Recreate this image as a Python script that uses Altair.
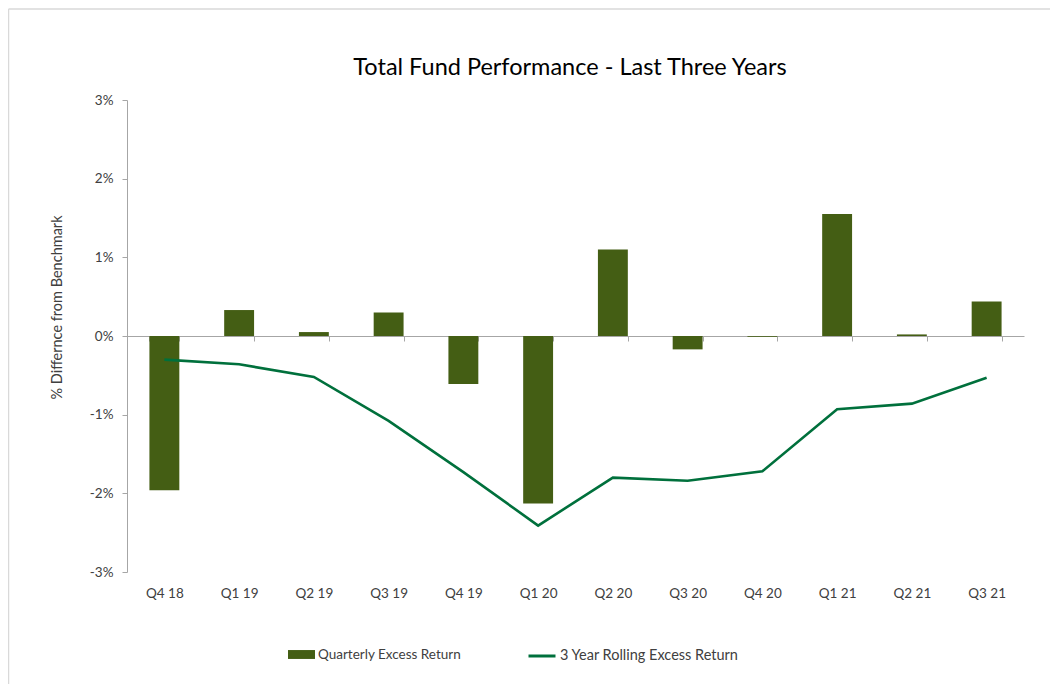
import altair as alt
import pandas as pd

quarters = ["Q4 18", "Q1 19", "Q2 19", "Q3 19", "Q4 19", "Q1 20",
            "Q2 20", "Q3 20", "Q4 20", "Q1 21", "Q2 21", "Q3 21"]
quarterly_excess = [-1.96, 0.33, 0.05, 0.30, -0.61, -2.13,
                    1.10, -0.17, -0.01, 1.55, 0.02, 0.44]
rolling_excess = [-0.30, -0.36, -0.52, -1.08, -1.73, -2.41,
                  -1.80, -1.84, -1.72, -0.93, -0.86, -0.53]
series_names = ["Quarterly Excess Return", "3 Year Rolling Excess Return"]
series_colors = ["#445E14", "#00703C"]
y_ticks = [-3, -2, -1, 0, 1, 2, 3]
title_text = "Total Fund Performance - Last Three Years"

bars_df = pd.DataFrame({"quarter": quarters, "value": quarterly_excess,
                        "series": series_names[0]})
line_df = pd.DataFrame({"quarter": quarters, "value": rolling_excess,
                        "series": series_names[1]})

FONT = "Lato"
W, H = 897, 472
PAD_L, PAD_T, PAD_R, PAD_B = 119, 92, 26, 112

x_enc = alt.X("quarter:N", sort=quarters, title=None,
              scale=alt.Scale(paddingInner=0.6, paddingOuter=0.3),
              axis=alt.Axis(offset=-236, tickBand="extent", tickSize=5,
                            labelPadding=245, labelAngle=0,
                            domainColor="#a6a6a6", tickColor="#a6a6a6",
                            labelColor="#404040", labelFontSize=13.5,
                            labelFont=FONT))
y_enc = alt.Y("value:Q", title="% Differnce from Benchmark",
              scale=alt.Scale(domain=[-3, 3], nice=False),
              axis=alt.Axis(values=y_ticks, labelExpr="datum.value + '%'",
                            tickSize=5, labelPadding=9, grid=False,
                            domainColor="#a6a6a6", tickColor="#a6a6a6",
                            labelColor="#404040", labelFontSize=13.5,
                            labelFont=FONT, titleFont=FONT,
                            titleFontSize=14.5, titleFontWeight="normal",
                            titleColor="#404040", titleX=-70, titleY=207,
                            titleAngle=-90, titleAlign="center",
                            titleBaseline="middle"))

fill_enc = alt.Fill(
    "series:N",
    scale=alt.Scale(domain=[series_names[0]], range=[series_colors[0]]),
    legend=alt.Legend(
        title=None, orient="none", legendX=161, legendY=541,
        symbolType="M-1,-0.33H1V0.33H-1Z", symbolSize=729,
        symbolStrokeWidth=0, labelOffset=3, labelFont=FONT,
        labelFontSize=13.5, labelColor="#404040", labelLimit=400))
stroke_enc = alt.Stroke(
    "series:N",
    scale=alt.Scale(domain=[series_names[1]], range=[series_colors[1]]),
    legend=alt.Legend(
        title=None, orient="none", legendX=400, legendY=541,
        symbolType="stroke", symbolSize=729, symbolStrokeWidth=3,
        labelOffset=3, labelFont=FONT, labelFontSize=14.5,
        labelColor="#404040", labelLimit=400))

bars = alt.Chart(bars_df).mark_bar().encode(x=x_enc, y=y_enc, fill=fill_enc)
line = alt.Chart(line_df).mark_line(strokeWidth=2.6).encode(
    x=x_enc, y=y_enc, stroke=stroke_enc)

border_df = pd.DataFrame({"k": [0]})
top_border = alt.Chart(border_df).mark_rule(color="#d9d9d9", strokeWidth=1.5).encode(
    x=alt.value(-PAD_L + 0.5), x2=alt.value(W + PAD_R),
    y=alt.value(-PAD_T + 1))
left_border = alt.Chart(border_df).mark_rule(color="#d9d9d9", strokeWidth=1.5).encode(
    x=alt.value(-PAD_L + 0.5), y=alt.value(-PAD_T + 1), y2=alt.value(H + PAD_B))

title_mark = alt.Chart(border_df).mark_text(
    text=title_text, font=FONT, fontSize=23.5, color="#000000",
    align="center", baseline="alphabetic"
).encode(x=alt.value(443), y=alt.value(-25))

chart = alt.layer(top_border, left_border, title_mark, bars, line).resolve_scale(
    fill="independent", stroke="independent"
).properties(
    width=W, height=H,
    autosize=alt.AutoSizeParams(type="none"),
    padding={"left": PAD_L, "top": PAD_T, "right": PAD_R, "bottom": PAD_B},
    background="white",
).configure_view(stroke=None)

chart.save("out.html", embed_options={"renderer": "svg", "actions": False})
